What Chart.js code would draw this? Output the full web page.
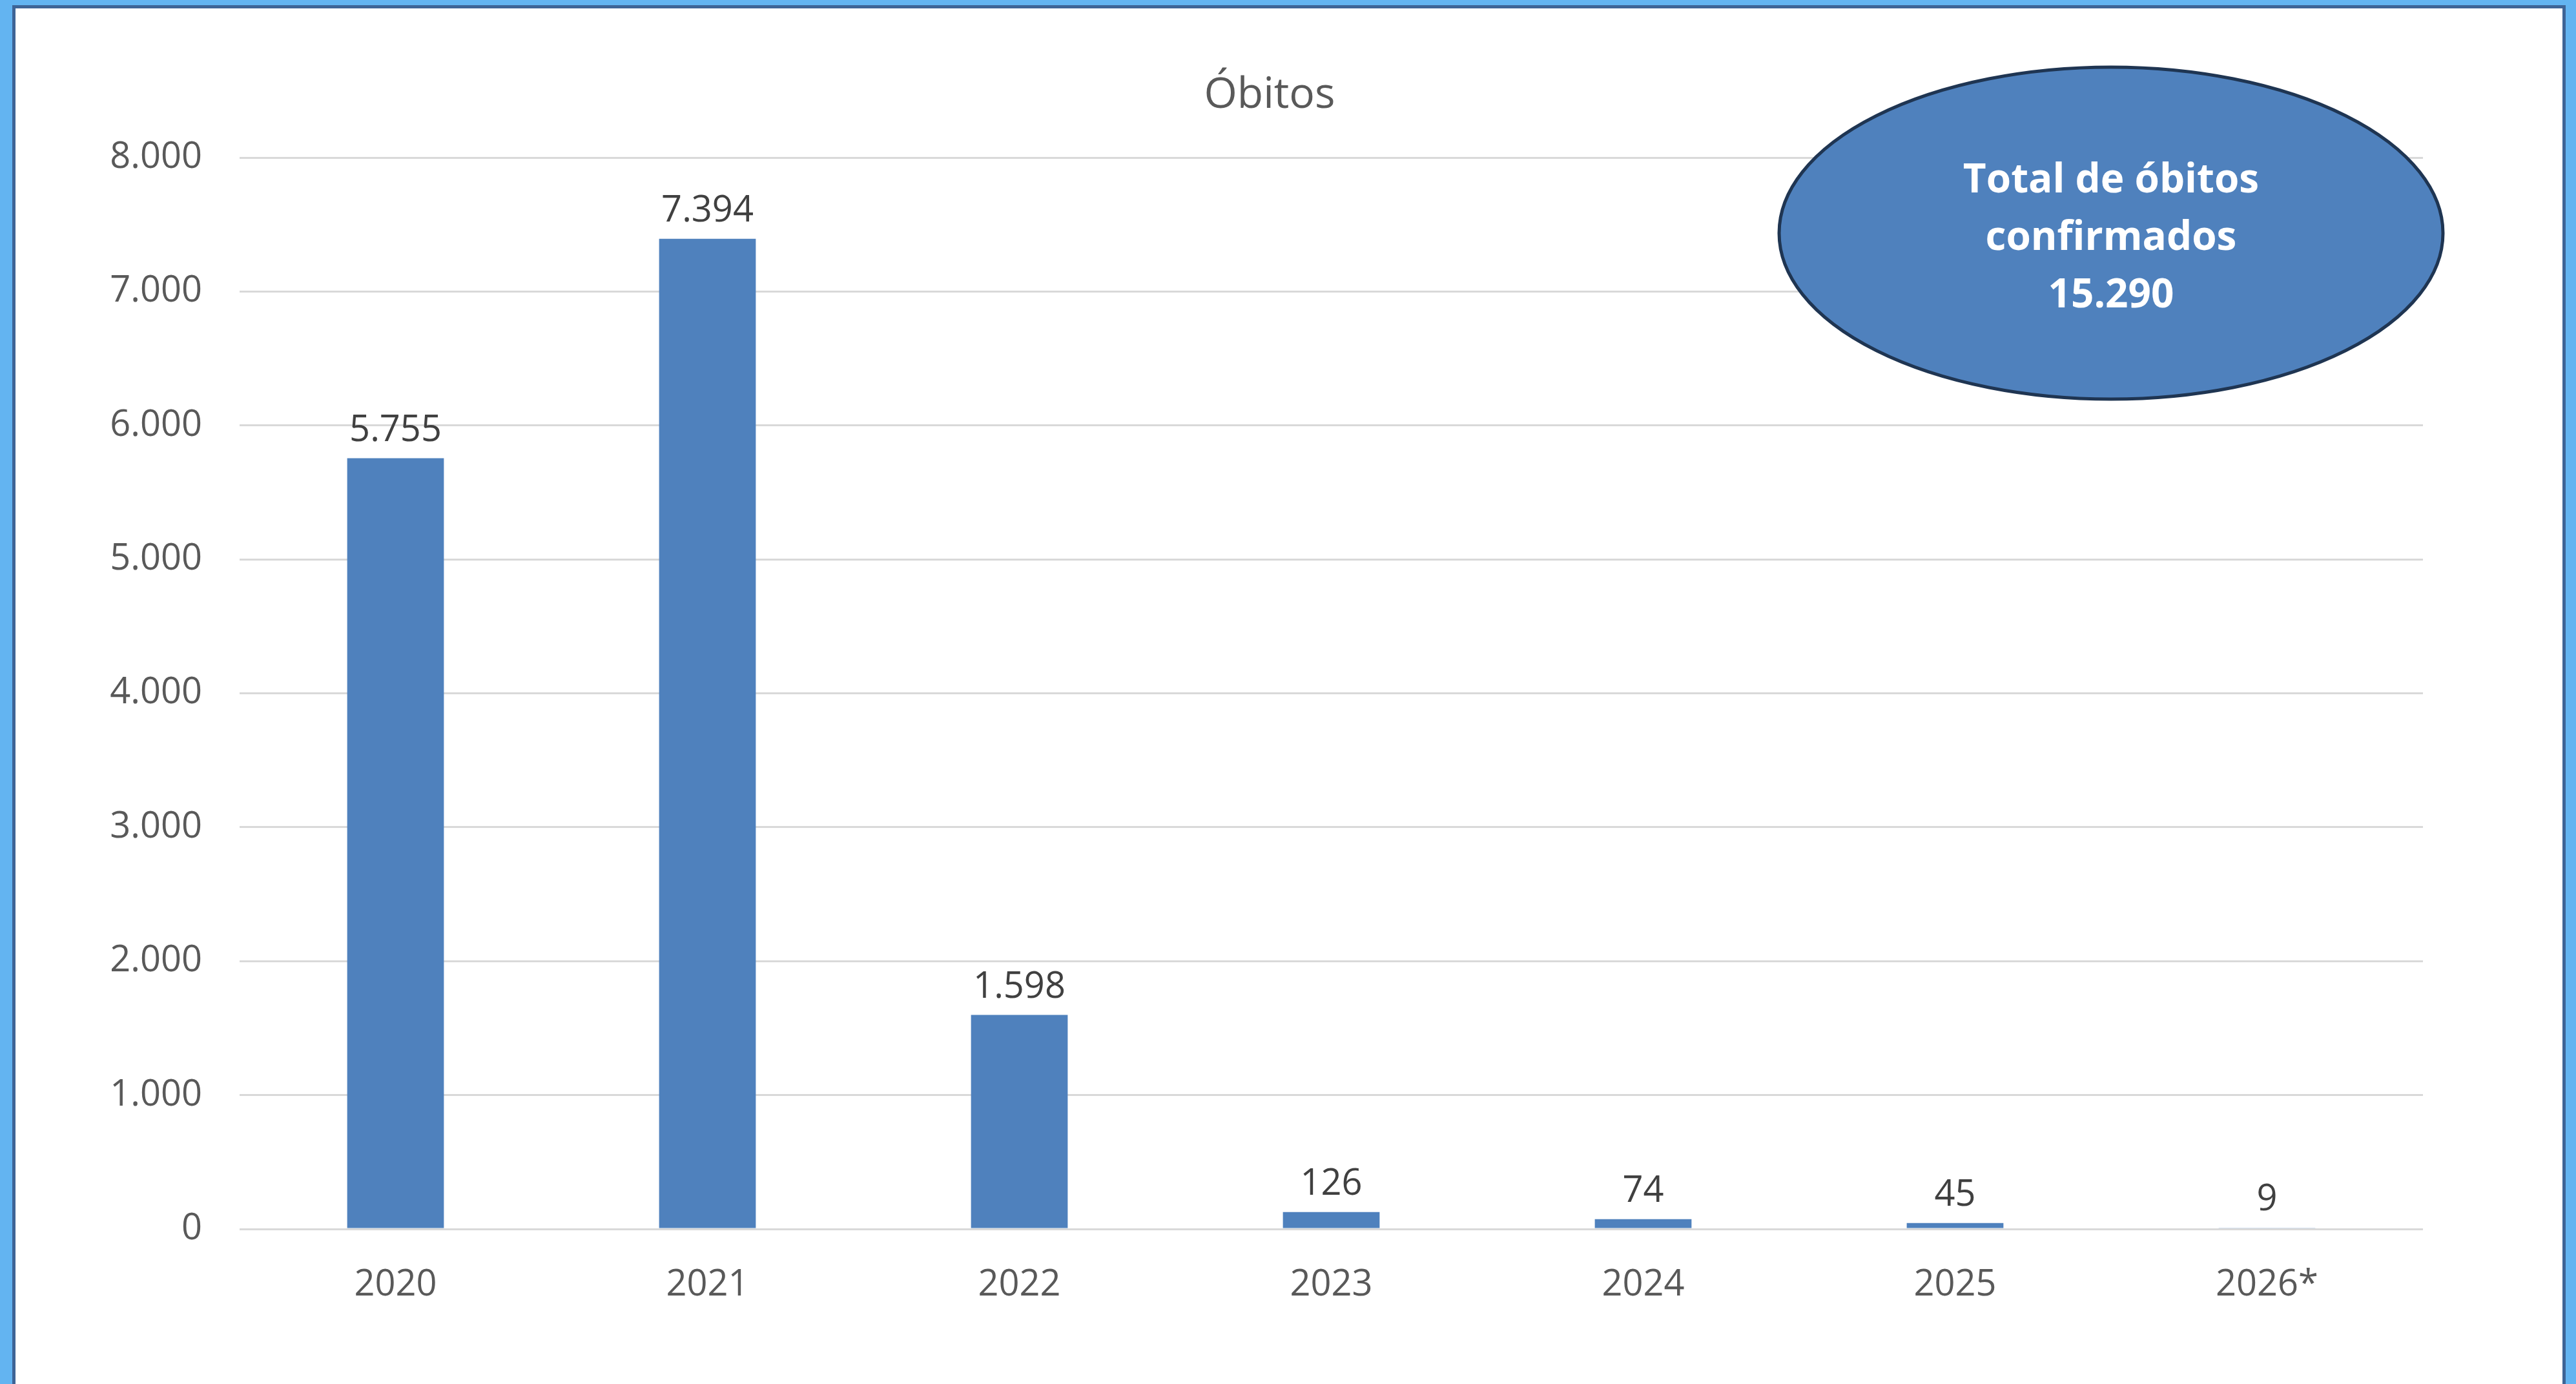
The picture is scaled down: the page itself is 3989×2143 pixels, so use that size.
<!DOCTYPE html>
<html lang="pt-BR">
<head>
<meta charset="utf-8">
<title>Óbitos</title>
<script src="https://cdn.jsdelivr.net/npm/chart.js@4.4.1/dist/chart.umd.min.js"></script>
<style>
  html, body { margin: 0; padding: 0; }
  body {
    width: 3989px;
    height: 2143px;
    background: #63b4f1;
    position: relative;
    overflow: hidden;
  }
  #frame {
    position: absolute;
    left: 19px;
    top: 8px;
    width: 3944px;
    height: 2200px;
    background: #fff;
    border: 5px solid #3e6496;
  }
  #chart {
    position: absolute;
    left: 0;
    top: 0;
  }
</style>
</head>
<body>
<div id="frame"></div>
<canvas id="chart" width="3989" height="2143"></canvas>
<script>
// chart data
const years = ['2020', '2021', '2022', '2023', '2024', '2025', '2026*'];
const obitos = [5755, 7394, 1598, 126, 74, 45, 9];
const chartTitle = 'Óbitos';
const totalLines = ['Total de óbitos', 'confirmados', '15.290'];

const FONT = '"Open Sans", "Liberation Sans", sans-serif';

// 7394 -> "7.394"
function fmt(n) {
  return String(n).replace(/\B(?=(\d{3})+(?!\d))/g, '.');
}

// title: in the original it sits a bit left of the plot centre
const titleText = {
  id: 'titleText',
  afterDraw(chart) {
    const ctx = chart.ctx;
    const area = chart.chartArea;
    ctx.save();
    ctx.font = '66px ' + FONT;
    ctx.fillStyle = '#595959';
    ctx.textAlign = 'center';
    ctx.textBaseline = 'middle';
    ctx.fillText(chartTitle, area.left + 1595, area.top - 96);
    ctx.restore();
  }
};

// value labels above each bar
const barLabels = {
  id: 'barLabels',
  afterDatasetsDraw(chart) {
    const ctx = chart.ctx;
    const meta = chart.getDatasetMeta(0);
    ctx.save();
    ctx.font = '56px ' + FONT;
    ctx.fillStyle = '#404040';
    ctx.textAlign = 'center';
    ctx.textBaseline = 'alphabetic';
    meta.data.forEach((bar, i) => {
      ctx.fillText(fmt(obitos[i]), bar.x, bar.y - 27);
    });
    ctx.restore();
  }
};

// the "total" ellipse in the top right corner
const totalBubble = {
  id: 'totalBubble',
  afterDraw(chart) {
    const ctx = chart.ctx;
    const area = chart.chartArea;
    const cx = area.right - 483;
    const cy = area.top + 117;
    ctx.save();
    ctx.beginPath();
    ctx.ellipse(cx, cy, 514, 257, 0, 0, Math.PI * 2);
    ctx.fillStyle = '#4f81bd';
    ctx.fill();
    ctx.lineWidth = 5;
    ctx.strokeStyle = '#1f3552';
    ctx.stroke();

    ctx.fillStyle = '#ffffff';
    ctx.font = 'bold 62px ' + FONT;
    ctx.textAlign = 'center';
    ctx.textBaseline = 'middle';
    totalLines.forEach((line, i) => {
      ctx.fillText(line, cx, cy - 81 + i * 89);
    });
    ctx.restore();
  }
};

new Chart(document.getElementById('chart').getContext('2d'), {
  type: 'bar',
  data: {
    labels: years,
    datasets: [{
      label: chartTitle,
      data: obitos,
      backgroundColor: '#4f81bd',
      borderWidth: 0,
      categoryPercentage: 1,
      barPercentage: 0.31
    }]
  },
  options: {
    responsive: false,
    animation: false,
    devicePixelRatio: 1,
    layout: {
      padding: { top: 244, left: 100, right: 237, bottom: 0 }
    },
    plugins: {
      legend: { display: false },
      tooltip: { enabled: false },
      title: { display: false }
    },
    scales: {
      x: {
        grid: { display: false },
        border: { display: false },
        ticks: {
          color: '#595959',
          font: { family: FONT, size: 56 },
          padding: 45
        },
        afterFit(scale) { scale.height = 240; }
      },
      y: {
        min: 0,
        max: 8000,
        border: { display: false },
        grid: {
          color: '#d9d9d9',
          lineWidth: 3,
          drawTicks: false
        },
        ticks: {
          stepSize: 1000,
          color: '#595959',
          font: { family: FONT, size: 56 },
          padding: 58,
          callback: (v) => fmt(v)
        },
        afterFit(scale) { scale.width = 271; }
      }
    }
  },
  plugins: [titleText, barLabels, totalBubble]
});
</script>
</body>
</html>
